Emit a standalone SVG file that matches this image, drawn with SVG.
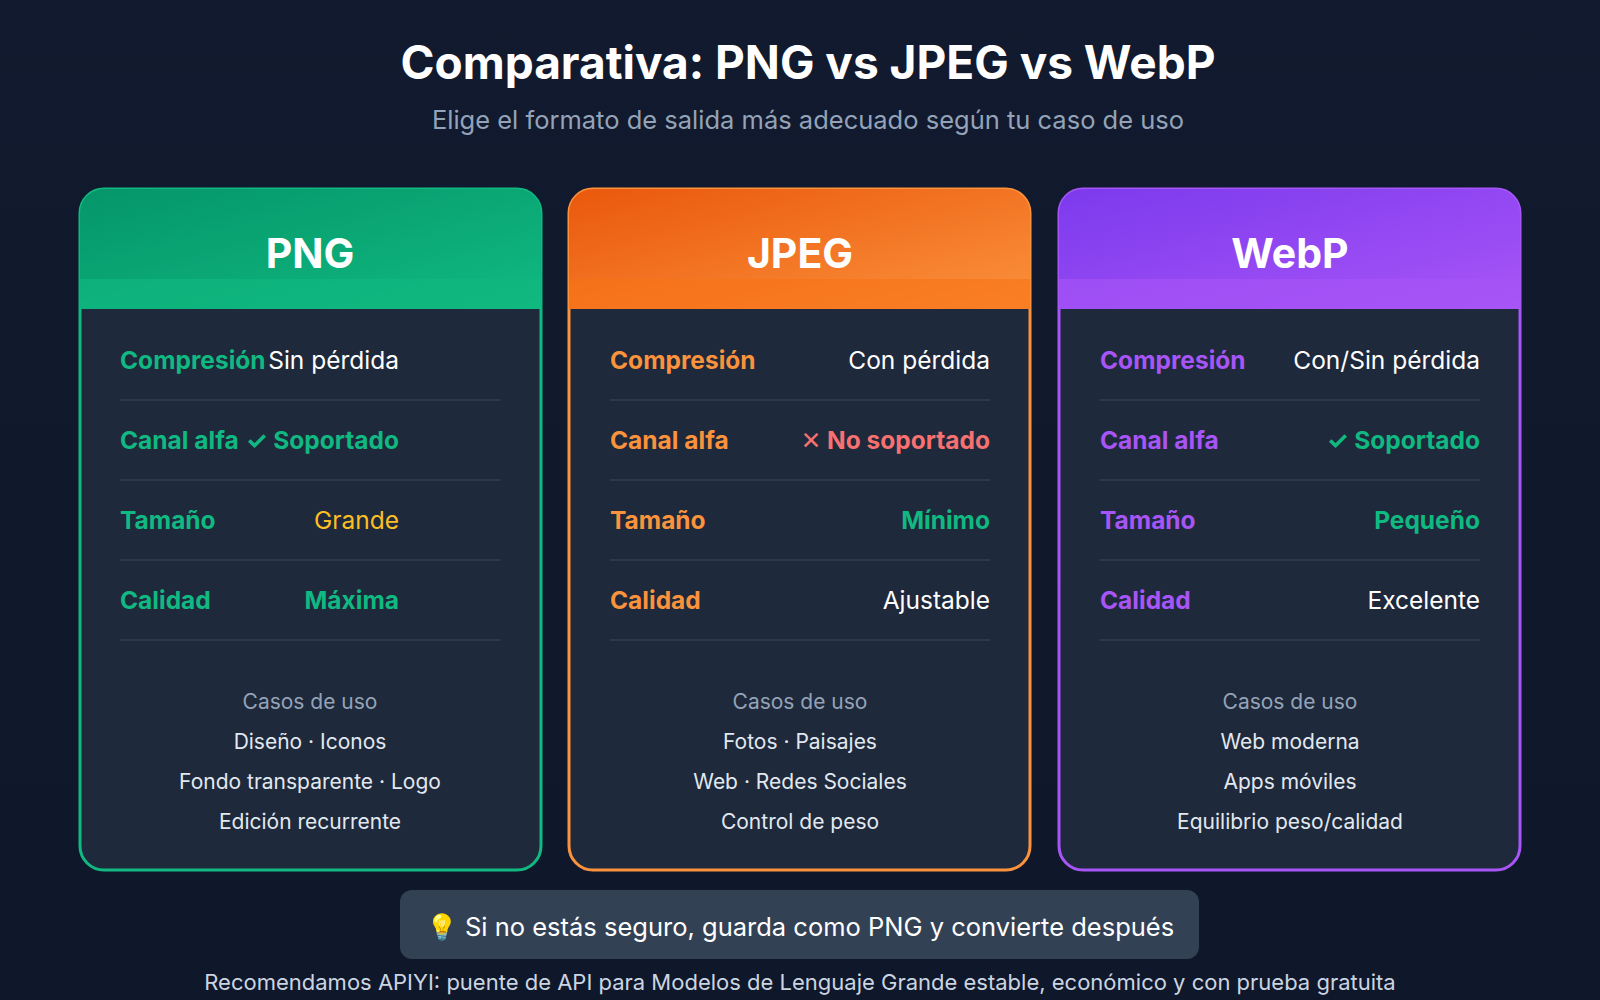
<svg xmlns="http://www.w3.org/2000/svg" width="1600" height="1000" viewBox="0 0 1600 1000">
<defs>
<linearGradient id="bg" x1="0" y1="0" x2="0" y2="1"><stop offset="0" stop-color="#111a2e"/><stop offset="1" stop-color="#0f172a"/></linearGradient>
<linearGradient id="gG" x1="0" y1="0" x2="1" y2="1"><stop offset="0" stop-color="#059669"/><stop offset="1" stop-color="#10b981"/></linearGradient>
<linearGradient id="gO" x1="0" y1="0" x2="1" y2="1"><stop offset="0" stop-color="#ea580c"/><stop offset="1" stop-color="#fb923c"/></linearGradient>
<linearGradient id="gP" x1="0" y1="0" x2="1" y2="1"><stop offset="0" stop-color="#7c3aed"/><stop offset="1" stop-color="#a855f7"/></linearGradient>
<style>
text{font-family:Inter,"Noto Sans","DejaVu Sans",sans-serif}
.h{font-size:41px;font-weight:700;fill:#fff;text-anchor:middle}
.l{font-size:24.5px;font-weight:700}
.v{font-size:24.5px;text-anchor:end}
.b{font-weight:700}
.sep{stroke:#334155;stroke-width:1.5}
.cu{font-size:21px;fill:#94a3b8;text-anchor:middle}
.ci{font-size:21px;fill:#e2e8f0;text-anchor:middle}
</style>
</defs>
<rect width="1600" height="1000" fill="url(#bg)"/>
<text x="808" y="79" text-anchor="middle" font-size="46" font-weight="700" fill="#fff">Comparativa: PNG vs JPEG vs WebP</text>
<text x="808" y="129" text-anchor="middle" font-size="25.5" fill="#94a3b8">Elige el formato de salida más adecuado según tu caso de uso</text>

<g id="png">
<rect x="80" y="189" width="461" height="681" rx="24" fill="#1e293b" stroke="#10b981" stroke-width="3"/>
<path d="M80 309 V213 a24 24 0 0 1 24 -24 H517 a24 24 0 0 1 24 24 V309 Z" fill="url(#gG)"/>
<rect x="80" y="279" width="461" height="30" fill="#10b981" opacity="0.6"/>
<text class="h" x="310" y="268">PNG</text>
<g fill="#10b981"><text class="l" x="120" y="369">Compresión</text><text class="l" x="120" y="449">Canal alfa</text><text class="l" x="120" y="529">Tamaño</text><text class="l" x="120" y="609">Calidad</text></g>
<text class="v" x="399" y="369" fill="#fff">Sin pérdida</text>
<text class="v b" x="399" y="449" fill="#10b981">✓ Soportado</text>
<text class="v" x="399" y="529" fill="#fbbf24">Grande</text>
<text class="v b" x="399" y="609" fill="#10b981">Máxima</text>
<line class="sep" x1="120" y1="400" x2="500" y2="400"/><line class="sep" x1="120" y1="480" x2="500" y2="480"/><line class="sep" x1="120" y1="560" x2="500" y2="560"/><line class="sep" x1="120" y1="640" x2="500" y2="640"/>
<text class="cu" x="310" y="709">Casos de uso</text>
<text class="ci" x="310" y="749">Diseño · Iconos</text>
<text class="ci" x="310" y="789">Fondo transparente · Logo</text>
<text class="ci" x="310" y="829">Edición recurrente</text>
</g>

<g id="jpeg">
<rect x="569" y="189" width="461" height="681" rx="24" fill="#1e293b" stroke="#fb923c" stroke-width="3"/>
<path d="M569 309 V213 a24 24 0 0 1 24 -24 H1006 a24 24 0 0 1 24 24 V309 Z" fill="url(#gO)"/>
<rect x="569" y="279" width="461" height="30" fill="#f97316" opacity="0.6"/>
<text class="h" x="800" y="268">JPEG</text>
<g fill="#fb923c"><text class="l" x="610" y="369">Compresión</text><text class="l" x="610" y="449">Canal alfa</text><text class="l" x="610" y="529">Tamaño</text><text class="l" x="610" y="609">Calidad</text></g>
<text class="v" x="990" y="369" fill="#fff">Con pérdida</text>
<text class="v b" x="990" y="449" fill="#f87171">✕ No soportado</text>
<text class="v b" x="990" y="529" fill="#10b981">Mínimo</text>
<text class="v" x="990" y="609" fill="#fff">Ajustable</text>
<line class="sep" x1="610" y1="400" x2="990" y2="400"/><line class="sep" x1="610" y1="480" x2="990" y2="480"/><line class="sep" x1="610" y1="560" x2="990" y2="560"/><line class="sep" x1="610" y1="640" x2="990" y2="640"/>
<text class="cu" x="800" y="709">Casos de uso</text>
<text class="ci" x="800" y="749">Fotos · Paisajes</text>
<text class="ci" x="800" y="789">Web · Redes Sociales</text>
<text class="ci" x="800" y="829">Control de peso</text>
</g>

<g id="webp">
<rect x="1059" y="189" width="461" height="681" rx="24" fill="#1e293b" stroke="#a855f7" stroke-width="3"/>
<path d="M1059 309 V213 a24 24 0 0 1 24 -24 H1496 a24 24 0 0 1 24 24 V309 Z" fill="url(#gP)"/>
<rect x="1059" y="279" width="461" height="30" fill="#a855f7" opacity="0.6"/>
<text class="h" x="1290" y="268">WebP</text>
<g fill="#a855f7"><text class="l" x="1100" y="369">Compresión</text><text class="l" x="1100" y="449">Canal alfa</text><text class="l" x="1100" y="529">Tamaño</text><text class="l" x="1100" y="609">Calidad</text></g>
<text class="v" x="1480" y="369" fill="#fff">Con/Sin pérdida</text>
<text class="v b" x="1480" y="449" fill="#10b981">✓ Soportado</text>
<text class="v b" x="1480" y="529" fill="#10b981">Pequeño</text>
<text class="v" x="1480" y="609" fill="#fff">Excelente</text>
<line class="sep" x1="1100" y1="400" x2="1480" y2="400"/><line class="sep" x1="1100" y1="480" x2="1480" y2="480"/><line class="sep" x1="1100" y1="560" x2="1480" y2="560"/><line class="sep" x1="1100" y1="640" x2="1480" y2="640"/>
<text class="cu" x="1290" y="709">Casos de uso</text>
<text class="ci" x="1290" y="749">Web moderna</text>
<text class="ci" x="1290" y="789">Apps móviles</text>
<text class="ci" x="1290" y="829">Equilibrio peso/calidad</text>
</g>

<g id="tip">
<rect x="400" y="890" width="799" height="69" rx="12" fill="#334155"/>
<text x="800" y="936" text-anchor="middle" font-size="25.5" fill="#fff">💡 Si no estás seguro, guarda como PNG y convierte después</text>
</g>
<text x="800" y="990" text-anchor="middle" font-size="22" fill="#cbd5e1">Recomendamos APIYI: puente de API para Modelos de Lenguaje Grande estable, económico y con prueba gratuita</text>
</svg>
